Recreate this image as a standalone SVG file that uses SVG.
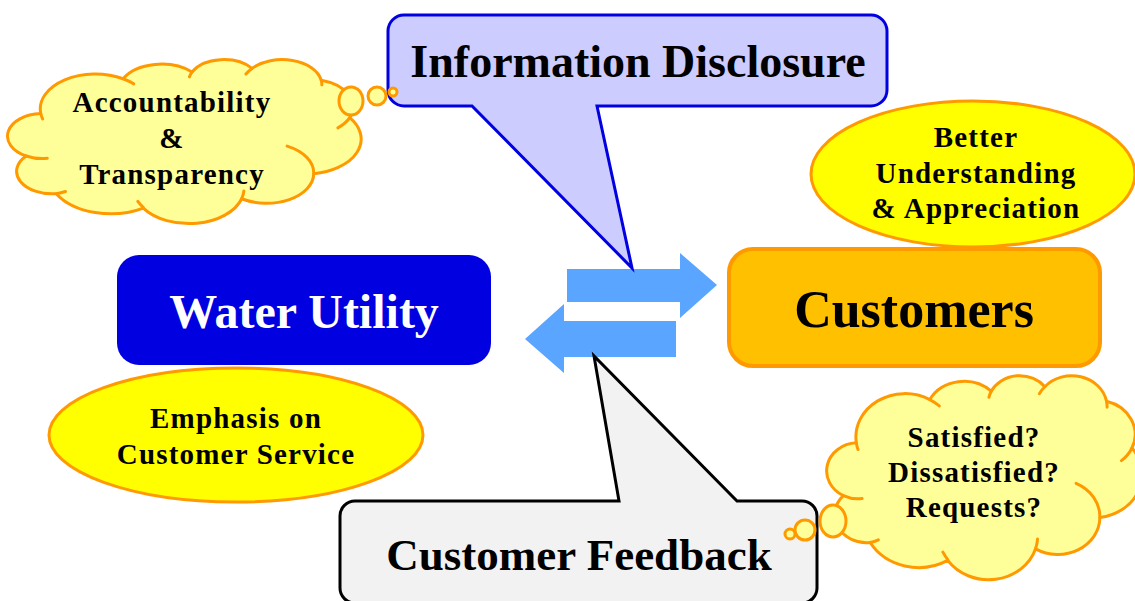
<svg xmlns="http://www.w3.org/2000/svg" width="1135" height="601" viewBox="0 0 1135 601">
<style>
  text { font-family: "Liberation Serif", "Times New Roman", serif; font-weight: bold; fill: #000; text-anchor: middle; }
  .small { font-size: 29px; letter-spacing: 1.2px; }
  .cloud { fill: #FFFF99; stroke: #FF9900; stroke-width: 3; stroke-linejoin: round; vector-effect: non-scaling-stroke; }
  .crease { fill: none; stroke: #FF9900; stroke-width: 3; stroke-linecap: round; vector-effect: non-scaling-stroke; }
  .bubble { fill: #FFFF99; stroke: #FF9900; stroke-width: 3; }
  .oval { fill: #FFFF00; stroke: #FF9900; stroke-width: 3; }
  .arrow { fill: #5AA5FF; }
</style>

<g id="connectors">
  <polygon class="arrow" points="567,269 680,269 680,253 717,285 680,318 680,302 567,302"/>
  <polygon class="arrow" points="676,321 564,321 564,304 525,339 564,373 564,357 676,357"/>
</g>

<g id="water-utility">
  <rect x="117" y="255" width="374" height="110" rx="22" fill="#0000E1"/>
  <text x="304" y="328" font-size="48" style="fill:#fff">Water Utility</text>
</g>

<g id="customers">
  <rect x="729" y="249" width="371" height="117" rx="24" fill="#FFC000" stroke="#FF9900" stroke-width="4"/>
  <text x="914" y="327" font-size="52">Customers</text>
</g>

<g id="emphasis">
  <ellipse class="oval" cx="236" cy="435" rx="187" ry="67"/>
  <text class="small" x="236" y="428">Emphasis on</text>
  <text class="small" x="236" y="464">Customer Service</text>
</g>

<g id="better-understanding">
  <ellipse class="oval" cx="973" cy="174" rx="162" ry="73"/>
  <text class="small" x="976" y="147">Better</text>
  <text class="small" x="976" y="183">Understanding</text>
  <text class="small" x="976" y="218">&amp; Appreciation</text>
</g>

<g id="information-disclosure">
  <path d="M404,15 H871 A16,16 0 0 1 887,31 V90 A16,16 0 0 1 871,106 H597 L632,268 L472,106 H404 A16,16 0 0 1 388,90 V31 A16,16 0 0 1 404,15 Z" fill="#CCCCFF" stroke="#0000E1" stroke-width="3" stroke-linejoin="miter"/>
  <text x="638" y="77" font-size="46">Information Disclosure</text>
</g>

<g id="customer-feedback">
  <path d="M355,501 H619 L594,356 L737,501 H802 A15,15 0 0 1 817,516 V588 A15,15 0 0 1 802,603 H355 A15,15 0 0 1 340,588 V516 A15,15 0 0 1 355,501 Z" fill="#F2F2F2" stroke="#000" stroke-width="3"/>
  <text x="579" y="570" font-size="45">Customer Feedback</text>
</g>

<g id="accountability-cloud">
  <path class="cloud" transform="translate(9,59) scale(0.8148,0.3796)" vector-effect="non-scaling-stroke" d="M39,143.7 A67.53,91.9 0 0 1 140.05,52.02 A53.33,72.67 0 0 1 224.55,34.31 A43.65,59.45 0 0 1 298.31,24.8 A48.57,65.95 0 0 1 383.17,55.74 A53.33,72.73 0 0 1 418.17,154.57 A67.75,92.2 0 0 1 374.03,302.01 A57.85,78.67 0 0 1 285.54,368.11 A67.52,92.15 0 0 1 164.79,392.64 A77.2,105.43 0 0 1 58.02,354.69 A43.6,59.18 0 0 1 21.11,255.47 A43.45,59.45 0 0 1 39,143.7 Z"/>
  <path class="crease" transform="translate(9,59) scale(0.8148,0.3796)" vector-effect="non-scaling-stroke" d="M46.93,261.77 A43.45,59.45 0 0 1 21.11,255.47 M69.28,348.99 A43.6,59.18 0 0 1 58.02,354.69 M164.78,390.9 A67.52,92.15 0 0 1 158.11,375.23 M288.27,347.51 A67.52,92.15 0 0 1 285.54,368.11 M341.29,229.54 A57.85,78.67 0 0 1 374.03,302.01 M418.17,154.57 A53.33,72.73 0 0 1 403.68,181.34 M383.17,55.74 A48.57,65.95 0 0 1 383.94,68.39 M290.78,39.52 A48.57,65.95 0 0 1 298.31,24.8 M221.41,47.2 A43.65,59.45 0 0 1 224.55,34.31 M140.05,52.02 A67.53,91.9 0 0 1 153.04,65.49 M41.27,157.89 A67.53,91.9 0 0 1 39,143.7"/>
  <ellipse class="bubble" cx="351" cy="101" rx="12" ry="14"/>
  <circle class="bubble" cx="377" cy="96" r="9"/>
  <circle class="bubble" cx="393" cy="92" r="4"/>
  <text class="small" x="172" y="112">Accountability</text>
  <text class="small" x="172" y="148">&amp;</text>
  <text class="small" x="172" y="184">Transparency</text>
</g>

<g id="feedback-cloud">
  <path class="cloud" transform="translate(828,375) scale(0.7269,0.4722)" vector-effect="non-scaling-stroke" d="M39,143.7 A67.53,91.9 0 0 1 140.05,52.02 A53.33,72.67 0 0 1 224.55,34.31 A43.65,59.45 0 0 1 298.31,24.8 A48.57,65.95 0 0 1 383.17,55.74 A53.33,72.73 0 0 1 418.17,154.57 A67.75,92.2 0 0 1 374.03,302.01 A57.85,78.67 0 0 1 285.54,368.11 A67.52,92.15 0 0 1 164.79,392.64 A77.2,105.43 0 0 1 58.02,354.69 A43.6,59.18 0 0 1 21.11,255.47 A43.45,59.45 0 0 1 39,143.7 Z"/>
  <path class="crease" transform="translate(828,375) scale(0.7269,0.4722)" vector-effect="non-scaling-stroke" d="M46.93,261.77 A43.45,59.45 0 0 1 21.11,255.47 M69.28,348.99 A43.6,59.18 0 0 1 58.02,354.69 M164.78,390.9 A67.52,92.15 0 0 1 158.11,375.23 M288.27,347.51 A67.52,92.15 0 0 1 285.54,368.11 M341.29,229.54 A57.85,78.67 0 0 1 374.03,302.01 M418.17,154.57 A53.33,72.73 0 0 1 403.68,181.34 M383.17,55.74 A48.57,65.95 0 0 1 383.94,68.39 M290.78,39.52 A48.57,65.95 0 0 1 298.31,24.8 M221.41,47.2 A43.65,59.45 0 0 1 224.55,34.31 M140.05,52.02 A67.53,91.9 0 0 1 153.04,65.49 M41.27,157.89 A67.53,91.9 0 0 1 39,143.7"/>
  <ellipse class="bubble" cx="833" cy="521" rx="13" ry="16"/>
  <circle class="bubble" cx="805" cy="530" r="10"/>
  <circle class="bubble" cx="790" cy="534" r="5"/>
  <text class="small" x="974" y="447">Satisfied?</text>
  <text class="small" x="974" y="482">Dissatisfied?</text>
  <text class="small" x="974" y="517">Requests?</text>
</g>
</svg>
